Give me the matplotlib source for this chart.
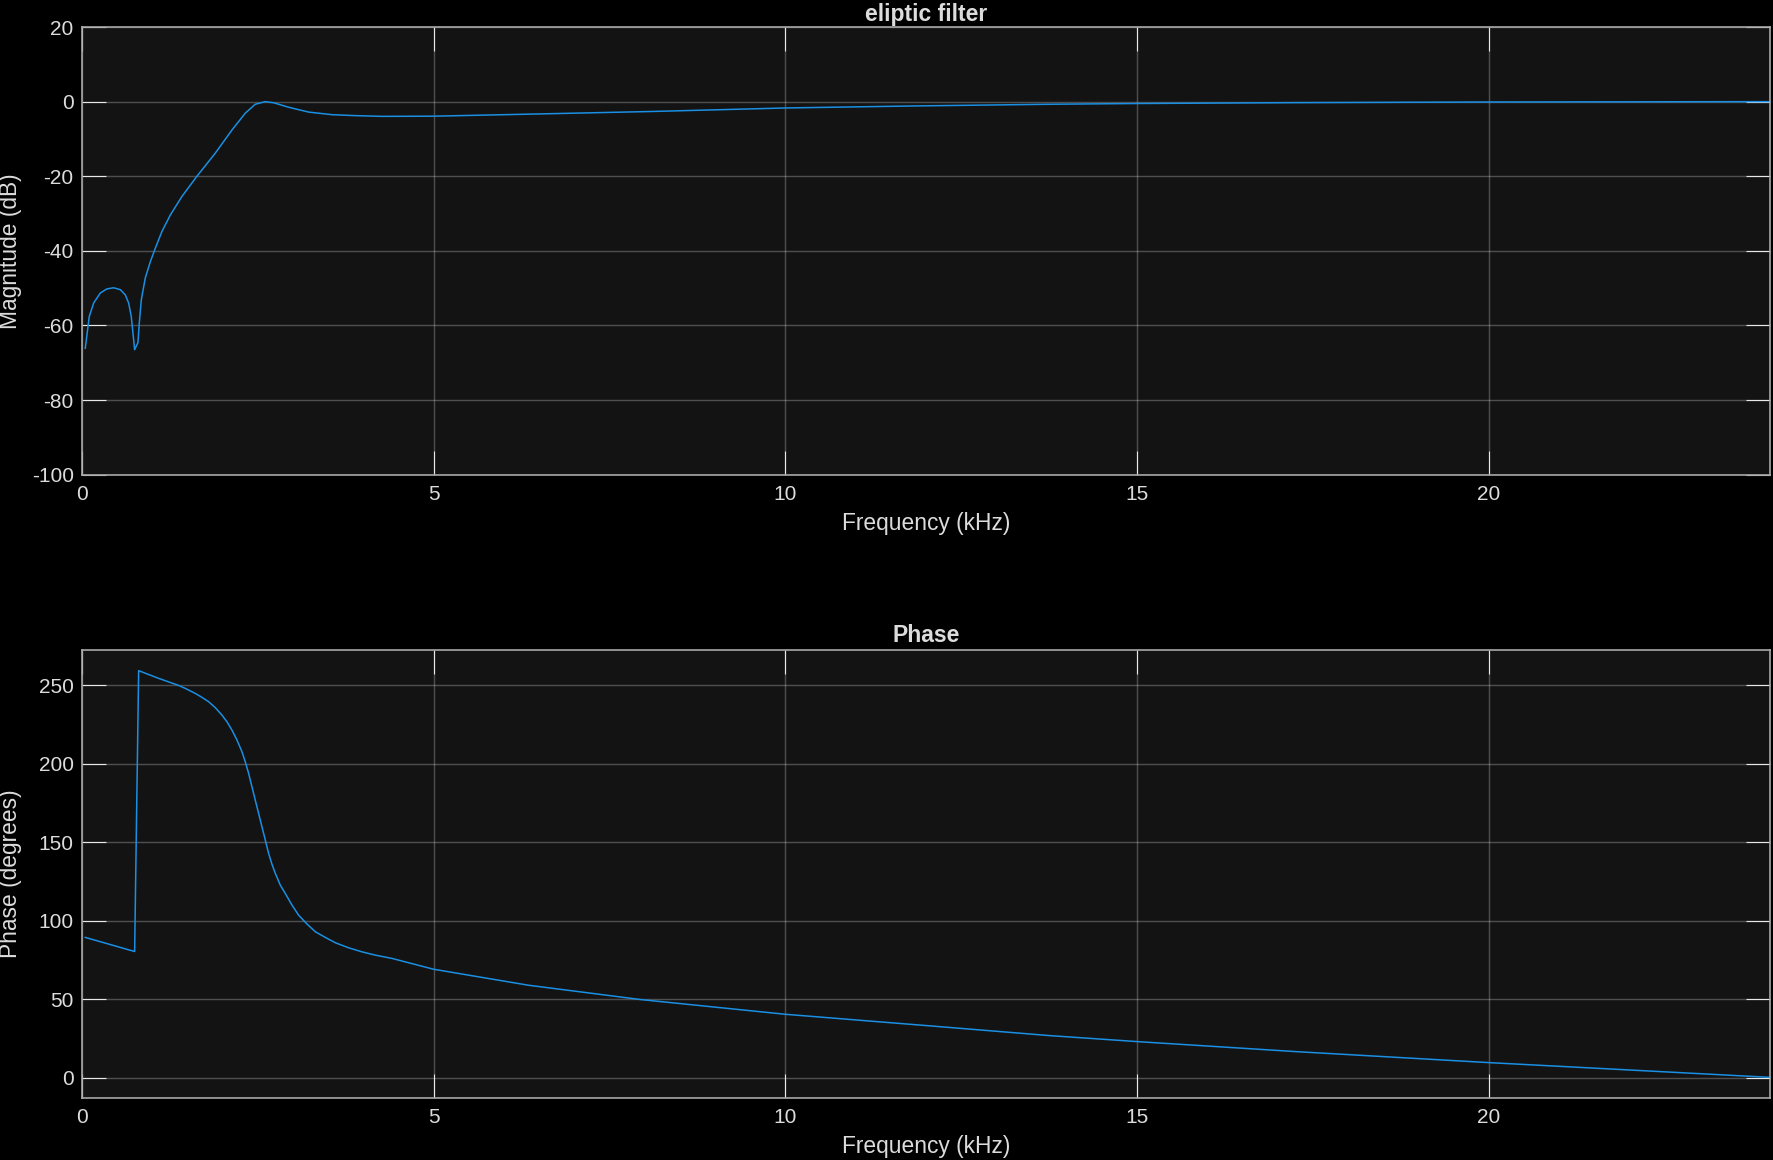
import matplotlib.pyplot as plt

# values
mag_khz = [0.047, 0.104, 0.166, 0.261, 0.355, 0.45, 0.545, 0.616, 0.664, 0.701, 0.725, 0.749,
           0.796, 0.815, 0.844, 0.9, 0.972, 1.043, 1.137, 1.256, 1.422, 1.635, 1.896, 2.133,
           2.322, 2.464, 2.607, 2.725, 2.938, 3.223, 3.555, 3.886, 4.265, 5.0, 6.74, 8.19,
           10.0, 11.82, 13.76, 15.0, 17.26, 20.0, 24.0]
mag_db = [-66.1, -57.6, -54.0, -51.3, -50.2, -49.9, -50.4, -51.8, -54.0, -57.6, -62.0, -66.5,
          -64.6, -59.4, -53.1, -47.3, -42.9, -39.3, -34.8, -30.4, -25.4, -20.0, -13.8, -7.6,
          -3.1, -0.7, 0.0, -0.3, -1.5, -2.8, -3.5, -3.75, -3.95, -3.9, -3.2, -2.6,
          -1.7, -1.16, -0.7, -0.5, -0.27, -0.1, 0.0]

ph_khz = [0.047, 0.749, 0.806, 1.09, 1.374, 1.469, 1.611, 1.706, 1.801, 1.896, 1.99, 2.062,
          2.133, 2.204, 2.275, 2.322, 2.37, 2.417, 2.464, 2.512, 2.559, 2.607, 2.654, 2.701,
          2.749, 2.82, 2.891, 2.986, 3.08, 3.2, 3.318, 3.46, 3.602, 3.79, 3.981, 4.17, 4.408,
          5.0, 6.35, 7.94, 10.0, 12.06, 13.76, 15.0, 17.26, 20.0, 24.0]
ph_deg = [89.4, 80.4, 259.4, 254.5, 250.0, 248.1, 244.9, 242.4, 239.6, 235.8, 231.1, 226.8,
          221.5, 215.2, 207.7, 201.3, 193.9, 185.4, 176.9, 168.4, 159.9, 151.4, 142.9, 136.1,
          130.2, 122.7, 117.4, 110.0, 103.6, 97.9, 93.0, 89.4, 86.0, 82.8, 80.2, 78.1, 76.0,
          69.1, 58.9, 49.8, 40.4, 33.0, 26.8, 23.0, 16.6, 9.6, 0.2]

x_ticks = [0, 5, 10, 15, 20]
mag_ticks = [-100, -80, -60, -40, -20, 0, 20]
ph_ticks = [0, 50, 100, 150, 200, 250]

plt.rcParams['font.family'] = ['Liberation Sans', 'DejaVu Sans']
plt.rcParams['axes.unicode_minus'] = False
line_col = '#1a8fe3'
txt_col = '#dcdcdc'

fig = plt.figure(figsize=(17.74, 11.6), dpi=100, facecolor='black')
ax1 = fig.add_axes([0.0462, 0.5908, 0.9515, 0.3859])
ax2 = fig.add_axes([0.0462, 0.0538, 0.9515, 0.3859])


def style(ax):
    ax.set_facecolor('#131313')
    for s in ax.spines.values():
        s.set_color('#a8a8a8')
        s.set_linewidth(1.2)
    ax.tick_params(direction='in', length=17, width=0.8, color='#e8e8e8',
                   labelcolor=txt_col, labelsize=15, top=True, right=True, pad=6)
    ax.tick_params(axis='x', pad=7.5)
    ax.grid(True, color='white', alpha=0.25, linewidth=1)
    ax.set_axisbelow(True)


#magnitude
ax1.plot(mag_khz, mag_db, color=line_col, lw=1.1)
ax1.set_xlim(0, 24)
ax1.set_ylim(-100, 20)
ax1.set_xticks(x_ticks)
ax1.set_yticks(mag_ticks)
style(ax1)
ax1.set_title('eliptic filter', color=txt_col, fontsize=16.5, fontweight='bold', pad=4.5)
ax1.set_xlabel('Frequency (kHz)', color=txt_col, fontsize=16.4, labelpad=6)
ax1.set_ylabel('Magnitude (dB)', color=txt_col, fontsize=16.4)
ax1.yaxis.set_label_coords(-0.0355, 0.5)

#phase
ax2.plot(ph_khz, ph_deg, color=line_col, lw=1.1)
ax2.set_xlim(0, 24)
ax2.set_ylim(-12.7, 272.6)
ax2.set_xticks(x_ticks)
ax2.set_yticks(ph_ticks)
style(ax2)
ax2.set_title('Phase', color=txt_col, fontsize=16.5, fontweight='bold', pad=5.5)
ax2.set_xlabel('Frequency (kHz)', color=txt_col, fontsize=16.4, labelpad=6)
ax2.set_ylabel('Phase (degrees)', color=txt_col, fontsize=16.4)
ax2.yaxis.set_label_coords(-0.0355, 0.5)

fig.savefig('out.png', dpi=100, facecolor='black')
